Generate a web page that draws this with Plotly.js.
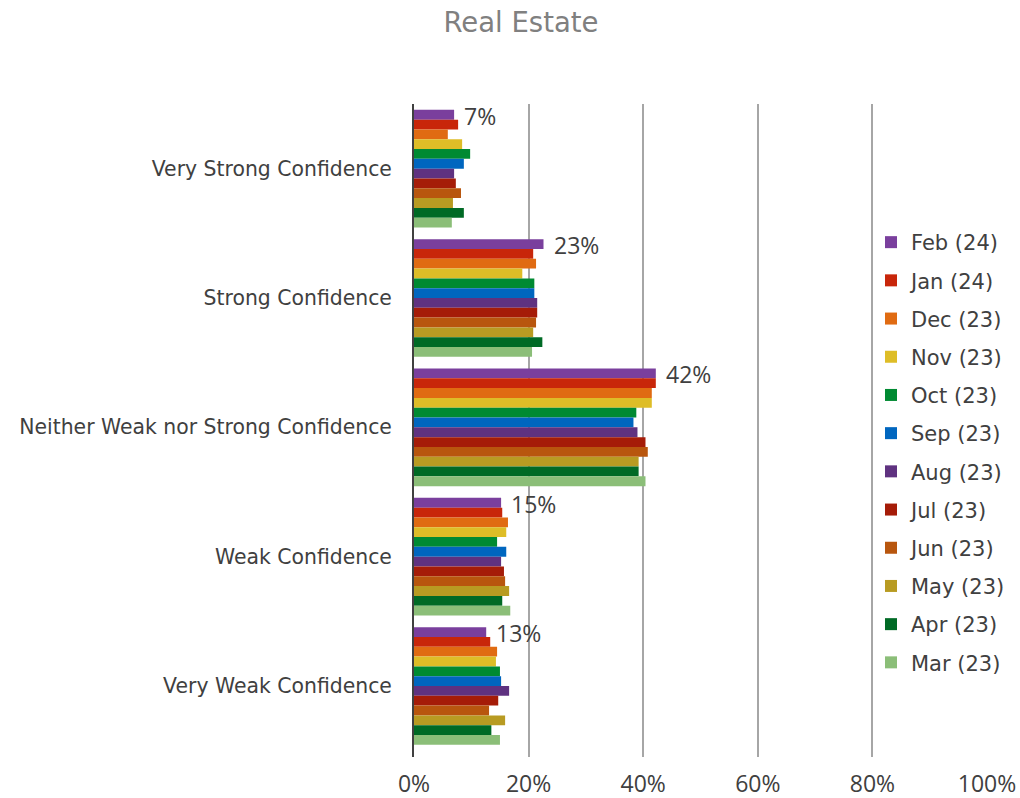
<!DOCTYPE html>
<html>
<head>
<meta charset="utf-8">
<script src="https://cdn.plot.ly/plotly-3.0.1.min.js"></script>
<style>html,body{margin:0;padding:0;background:#fff;}#chart{width:1020px;height:798px;}</style>
</head>
<body>
<div id="chart"></div>
<script>
var categories = ["Very Strong Confidence", "Strong Confidence", "Neither Weak nor Strong Confidence", "Weak Confidence", "Very Weak Confidence"];
var seriesNames = ["Feb (24)", "Jan (24)", "Dec (23)", "Nov (23)", "Oct (23)", "Sep (23)", "Aug (23)", "Jul (23)", "Jun (23)", "May (23)", "Apr (23)", "Mar (23)"];
var seriesColors = ["#7A3F9D", "#C8260A", "#E06B12", "#DEBD27", "#008A32", "#0066BF", "#5F3280", "#A51C08", "#B8560E", "#B89B22", "#006A25", "#8BBE78"];

var feb24 = [7.0, 22.6, 42.2, 15.2, 12.6];
var jan24 = [7.7, 20.8, 42.2, 15.4, 13.3];
var dec23 = [5.9, 21.3, 41.5, 16.4, 14.5];
var nov23 = [8.4, 18.9, 41.5, 16.1, 14.3];
var oct23 = [9.8, 21.0, 38.8, 14.5, 15.0];
var sep23 = [8.7, 21.0, 38.3, 16.1, 15.2];
var aug23 = [7.0, 21.5, 39.0, 15.2, 16.6];
var jul23 = [7.3, 21.5, 40.4, 15.7, 14.7];
var jun23 = [8.2, 21.3, 40.8, 15.9, 13.1];
var may23 = [6.8, 20.8, 39.2, 16.6, 15.9];
var apr23 = [8.7, 22.4, 39.2, 15.4, 13.5];
var mar23 = [6.6, 20.6, 40.4, 16.8, 15.0];

var allSeries = [feb24, jan24, dec23, nov23, oct23, sep23, aug23, jul23, jun23, may23, apr23, mar23];
var tickVals = [0, 20, 40, 60, 80, 100];
var tickText = ["0%", "20%", "40%", "60%", "80%", "100%"];

var FONT = "DejaVu Sans, Verdana, sans-serif";
var NUMFONT = "Open Sans, sans-serif";

var traces = allSeries.map(function (vals, i) {
  return {
    type: "bar",
    orientation: "h",
    name: seriesNames[i],
    legendgroup: "g" + i,
    x: vals,
    y: categories,
    marker: {color: seriesColors[i], line: {width: 0}},
    hoverinfo: "name+x"
  };
});

var annotations = feb24.map(function (v, j) {
  return {
    x: v, y: categories[j], xref: "x", yref: "y",
    text: Math.round(v) + "%",
    showarrow: false, xanchor: "left", yanchor: "middle",
    xshift: 8, yshift: 53,
    font: {family: NUMFONT, size: 23, color: "#404040"}
  };
});

var layout = {
  width: 1020, height: 798,
  paper_bgcolor: "#ffffff", plot_bgcolor: "#ffffff",
  margin: {l: 414, r: 33, t: 104, b: 41, autoexpand: false},
  title: {text: "Real Estate", x: 521 / 1020, xref: "container", xanchor: "center", y: 1 - 22 / 798, yref: "container", yanchor: "middle",
          font: {family: FONT, size: 27.5, color: "#808080"}},
  barmode: "group", bargap: 0.09, bargroupgap: 0,
  xaxis: {range: [0, 100], tickvals: tickVals, ticktext: tickText, showgrid: true, gridcolor: "#A6A6A6", gridwidth: 2,
          zeroline: false, showline: false, ticks: "", ticklen: 0, ticklabelstandoff: 11,
          tickfont: {family: NUMFONT, size: 23, color: "#404040"}},
  yaxis: {type: "category", autorange: "reversed", showgrid: false, zeroline: false, showline: true, linecolor: "#404040", linewidth: 2,
          ticks: "", ticklabelstandoff: 16, tickfont: {family: FONT, size: 20.4, color: "#404040"}},
  showlegend: true,
  legend: {x: (871 - 414) / 573, xref: "paper", y: (757 - 222) / 653, yref: "paper", xanchor: "left", yanchor: "top",
           traceorder: "grouped", tracegroupgap: 7.9, bgcolor: "rgba(0,0,0,0)",
           font: {family: FONT, size: 21, color: "#404040"}},
  annotations: annotations
};

Plotly.newPlot("chart", traces, layout, {displayModeBar: false, staticPlot: true});
</script>
</body>
</html>
